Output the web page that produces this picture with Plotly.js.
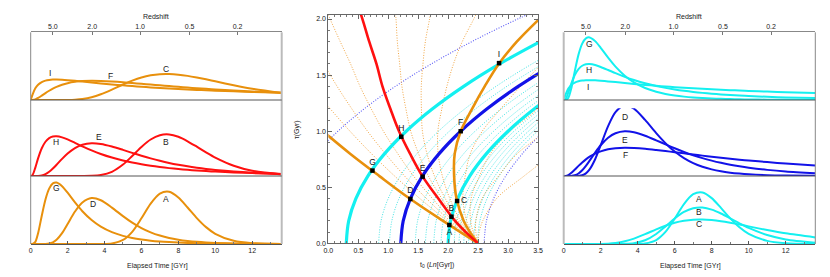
<!DOCTYPE html>
<html><head><meta charset="utf-8">
<script src="https://cdn.plot.ly/plotly-3.0.1.min.js"></script>
<style>html,body{margin:0;padding:0;background:#fff}#chart{width:830px;height:277px}</style>
</head><body><div id="chart"></div>
<script>
// ---------- data: star-formation histories (normalised SFR vs elapsed time, Gyr) ----------
const tGrid = [0,0.1,0.25,0.4,0.6,0.8,1.0,1.2,1.4,1.7,2.0,2.4,2.8,3.3,3.8,4.4,5.0,5.5,6.0,6.5,7.0,7.5,8.0,8.5,9.0,9.5,10,11,12,13.6];
const sfhA = [0,0,0,0,0,0,0,0,0,0,0,0,0,0,0.0002,0.0033,0.024,0.0731,0.1539,0.2419,0.3017,0.3125,0.2782,0.2187,0.1552,0.101,0.0613,0.019,0.005,0.0005];
const sfhB = [0,0,0,0,0,0,0,0,0,0,0,0,0.0001,0.0008,0.005,0.0224,0.0608,0.1065,0.1547,0.1941,0.2169,0.2209,0.2085,0.1848,0.1557,0.1256,0.0977,0.0543,0.0277,0.0083];
const sfhC = [0,0,0,0,0,0,0,0,0,0.0001,0.0004,0.0019,0.0059,0.0161,0.0329,0.0597,0.0888,0.1108,0.1287,0.1408,0.1472,0.1481,0.1447,0.1379,0.1287,0.1181,0.1068,0.0845,0.0646,0.040];
const sfhD = [0,0,0,0,0,0.0005,0.0029,0.0102,0.0255,0.0652,0.1197,0.1943,0.2488,0.2749,0.2618,0.2181,0.1667,0.1277,0.0952,0.0697,0.0504,0.0361,0.0258,0.0183,0.013,0.0093,0.0066,0.0033,0.0017,0.0006];
const sfhE = [0,0,0,0.0003,0.0027,0.0097,0.0223,0.0395,0.0596,0.0911,0.1197,0.1488,0.1663,0.174,0.1702,0.1567,0.1388,0.1231,0.1079,0.0937,0.081,0.0697,0.0599,0.0513,0.044,0.0377,0.0323,0.0238,0.0176,0.011];
const sfhF = [0,0.0002,0.0038,0.0115,0.025,0.0393,0.0528,0.0648,0.075,0.0871,0.096,0.1038,0.1079,0.1097,0.1088,0.1057,0.1012,0.097,0.0926,0.0881,0.0836,0.0793,0.0751,0.0711,0.0673,0.0637,0.0603,0.0541,0.0486,0.0411];
const sfhG = [0,0.0001,0.0127,0.0641,0.1694,0.2668,0.3315,0.3628,0.3682,0.3463,0.3071,0.2492,0.1964,0.1433,0.1038,0.0707,0.0485,0.0357,0.0265,0.0198,0.0149,0.0114,0.0087,0.0067,0.0052,0.0041,0.0032,0.002,0.0013,0.0007];
const sfhH = [0,0.0051,0.0443,0.0938,0.1474,0.1821,0.2015,0.2101,0.2115,0.2056,0.1944,0.1764,0.1579,0.1363,0.1173,0.0981,0.0823,0.0714,0.0622,0.0543,0.0476,0.0419,0.037,0.0328,0.0292,0.026,0.0233,0.0188,0.0153,0.0112];
const sfhI = [0,0.0311,0.067,0.0875,0.1028,0.1107,0.1148,0.1165,0.1168,0.1156,0.1134,0.1095,0.1053,0.0999,0.0948,0.0889,0.0836,0.0795,0.0756,0.0721,0.0688,0.0658,0.0629,0.0603,0.0578,0.0555,0.0534,0.0495,0.046,0.0412];

// top axis: redshift tick labels and the elapsed time they sit at
const redshiftLabels = ['5.0','2.0','1.0','0.5','0.2'];
const redshiftAges = [1.2, 3.33, 5.93, 8.61, 11.21];

// ---------- data: centre panel (t0 vs tau) ----------
// curves of constant peak time, read as t0 values at these tau
const tauSteps = [0,0.2,0.4,0.6,0.8,1.0,1.2,1.4,1.6,1.8,2.0,2.2];
const peakCyanGHI = [0.30,0.34,0.46,0.66,0.94,1.30,1.74,2.26,2.86,3.54];
const peakBlueDEF = [1.21,1.25,1.37,1.57,1.85,2.21,2.65,3.17,3.77];
const peakCyanABC = [2.00,2.04,2.16,2.36,2.64,3.00,3.44,3.96];
const peakBlueDotEarly = [-0.84,-0.80,-0.68,-0.48,-0.20,0.16,0.60,1.12,1.72,2.40,3.16,4.00];
const peakBlueDotLate = [2.60,2.64,2.76,2.96,3.24,3.60];
const peakCyanDot1 = [0.84,0.88,1.00,1.20,1.48,1.84,2.28,2.80,3.40,4.08];
const peakCyanDot2 = [1.02,1.06,1.18,1.38,1.66,2.02,2.46,2.98,3.58];
const peakCyanDot3 = [1.45,1.49,1.61,1.81,2.09,2.45,2.89,3.41,4.01];
const peakCyanDot4 = [1.62,1.66,1.78,1.98,2.26,2.62,3.06,3.58];
const peakCyanDot5 = [1.76,1.80,1.92,2.12,2.40,2.76,3.20,3.72];
const peakCyanDot6 = [1.88,1.92,2.04,2.24,2.52,2.88,3.32,3.84];
const peakCyanDot7 = [2.10,2.14,2.26,2.46,2.74,3.10,3.54];
const peakCyanDot8 = [2.18,2.22,2.34,2.54,2.82,3.18,3.62];
const peakCyanDot9 = [2.26,2.30,2.42,2.62,2.90,3.26,3.70];
const peakCyanDot10 = [2.34,2.38,2.50,2.70,2.98,3.34,3.78];
const peakCyanDot11 = [2.42,2.46,2.58,2.78,3.06,3.42,3.86];
const peakCyanDot12 = [2.49,2.53,2.65,2.85,3.13,3.49,3.93];

// fan of curves converging at t0 = 2.5, read as t0 values at these tau
const tauFan = [0,0.1,0.2,0.4,0.6,0.8,1.0,1.2,1.4,1.6,1.8,2.0,2.1];
const fanOrangeGDA = [2.5,2.205,1.916,1.358,0.853,0.364,-0.09];
const fanRedHEB = [2.5,2.295,2.116,1.836,1.57,1.364,1.18,1.036,0.904,0.804,0.682,0.57,0.505];
const fanOrangeIFC = [2.5,2.365,2.26,2.14,2.10,2.11,2.21,2.40,2.61,2.845,3.15,3.52,3.72];
const fanDot1 = [2.5,2.237,1.987,1.528,1.108,0.72,0.362,0.032,-0.28];
const fanDot2 = [2.5,2.258,2.033,1.638,1.274,0.951,0.655,0.392,0.147,-0.074,-0.28];
const fanDot3 = [2.5,2.277,2.075,1.738,1.423,1.159,0.92,0.716,0.53,0.372,0.198,0.03,-0.05];
const fanDot4 = [2.5,2.308,2.143,1.894,1.671,1.506,1.376,1.295,1.229,1.191,1.152,1.13,1.112];
const fanDot5 = [2.5,2.322,2.171,1.952,1.772,1.647,1.571,1.554,1.552,1.58,1.62,1.69,1.719];
const fanDot6 = [2.5,2.339,2.207,2.028,1.904,1.834,1.829,1.895,1.979,2.09,2.237,2.428,2.517];
const fanDot7 = [2.5,2.39,2.31,2.246,2.285,2.371,2.57,2.878,3.208,3.56];
const fanDot8 = [2.5,2.421,2.375,2.383,2.523,2.707,3.034,3.492,3.75];
const fanDot9 = [2.5,2.463,2.462,2.566,2.841,3.154,3.652];
const fanDot10 = [2.5,2.519,2.577,2.809,3.266,3.751];

// the nine models
const modelNames = ['A','B','C','D','E','F','G','H','I'];
const modelT0 = [2.02,2.055,2.15,1.369,1.575,2.21,0.737,1.218,2.85];
const modelTau = [0.164,0.238,0.378,0.396,0.595,1.0,0.649,0.951,1.607];

// ---------- styles ----------
const ORANGE='#E8900C', RED='#FF1010', CYAN='#14F0F0', BLUE='#1212E8';
const ORANGE_DOT='#F0A646', CYAN_DOT='#3EE2E2', BLUE_DOT='#5A5AF5';
const FONT='Liberation Sans, Arial, Helvetica, sans-serif';
const W=830, H=277;
const px = v => v/W, py = v => 1 - v/H;

const traces = [];
function side(y, xa, ya, color){
  traces.push({x:tGrid, y:y, xaxis:xa, yaxis:ya, type:'scatter', mode:'lines',
    line:{color:color, width:2, shape:'spline', smoothing:0.8}, hoverinfo:'skip'});
}
// left panel
side(sfhI,'x2','y3',ORANGE); side(sfhF,'x2','y3',ORANGE); side(sfhC,'x2','y3',ORANGE);
side(sfhH,'x','y2',RED); side(sfhE,'x','y2',RED); side(sfhB,'x','y2',RED);
side(sfhG,'x','y',ORANGE); side(sfhD,'x','y',ORANGE); side(sfhA,'x','y',ORANGE);
// right panel
side(sfhG,'x4','y6',CYAN); side(sfhH,'x4','y6',CYAN); side(sfhI,'x4','y6',CYAN);
side(sfhD,'x3','y5',BLUE); side(sfhE,'x3','y5',BLUE); side(sfhF,'x3','y5',BLUE);
side(sfhA,'x3','y4',CYAN); side(sfhB,'x3','y4',CYAN); side(sfhC,'x3','y4',CYAN);

// centre panel
function mid(xv, yv, color, width, dash){
  traces.push({x:xv, y:yv, xaxis:'x5', yaxis:'y7', type:'scatter', mode:'lines',
    line:{color:color, width:width, dash:dash||'solid', shape:'spline', smoothing:1}, hoverinfo:'skip'});
}
const DOT='1px,1.6px';
[peakCyanDot1,peakCyanDot2,peakCyanDot3,peakCyanDot4,peakCyanDot5,peakCyanDot6,
 peakCyanDot7,peakCyanDot8,peakCyanDot9,peakCyanDot10,peakCyanDot11,peakCyanDot12]
 .forEach(a=>mid(a, tauSteps, CYAN_DOT, 1, DOT));
mid(peakBlueDotEarly, tauSteps, BLUE_DOT, 1.1, DOT);
mid(peakBlueDotLate, tauSteps, BLUE_DOT, 1.1, DOT);
[fanDot1,fanDot2,fanDot3,fanDot4,fanDot5,fanDot6,fanDot7,fanDot8,fanDot9,fanDot10]
 .forEach(a=>mid(a, tauFan, ORANGE_DOT, 1, DOT));
mid(peakCyanGHI, tauSteps, CYAN, 3.2);
mid(peakCyanABC, tauSteps, CYAN, 3.2);
mid(peakBlueDEF, tauSteps, BLUE, 3.2);
mid(fanOrangeGDA, tauFan, ORANGE, 2.6);
mid(fanOrangeIFC, tauFan, ORANGE, 2.6);
mid(fanRedHEB, tauFan, RED, 2.6);
traces.push({x:modelT0, y:modelTau, text:modelNames, xaxis:'x5', yaxis:'y7', type:'scatter',
  mode:'markers+text', cliponaxis:false,
  textposition:['bottom center','top center','middle right','top center','top center','top center','top center','top center','top center'],
  textfont:{family:FONT, size:8.5, color:'#111'},
  marker:{symbol:'square', size:4.5, color:'#000'}, hoverinfo:'skip'});

// ---------- layout ----------
const tickFont = {family:FONT, size:7, color:'#222'};
const hidden = (dom, rng, anchor) => ({domain:dom, range:rng, anchor:anchor, visible:false, fixedrange:true});
const leftDom = [px(30.7), px(281.7)], rightDom = [px(563.7), px(815.3)];
const botDom = [py(244), py(176.3)], midDom = [py(176), py(108.3)], topDom = [py(100), py(32.3)];
function bottomAxis(dom, anchor){
  return {domain:dom, range:[0,13.6], anchor:anchor, showline:true, linecolor:'#555', linewidth:1,
    ticks:'inside', ticklen:3, tickcolor:'#555', dtick:2, tick0:0, tickfont:tickFont,
    minor:{dtick:1, ticklen:2, ticks:'inside', tickcolor:'#777'},
    showgrid:false, zeroline:false, fixedrange:true};
}
function topAxis(dom, anchor){
  return {domain:dom, range:[0,13.6], anchor:anchor, side:'top', showline:true, linecolor:'#888', linewidth:1,
    ticks:'inside', ticklen:3, tickcolor:'#777', tickmode:'array', tickvals:redshiftAges, ticktext:redshiftLabels,
    tickfont:tickFont, showgrid:false, zeroline:false, fixedrange:true};
}
const layout = {
  width:W, height:H, margin:{l:0,r:0,t:0,b:0}, paper_bgcolor:'#fff', plot_bgcolor:'rgba(0,0,0,0)',
  showlegend:false, font:{family:FONT, size:7, color:'#222'},
  xaxis: bottomAxis(leftDom,'y'),
  xaxis2: topAxis(leftDom,'y3'),
  xaxis3: bottomAxis(rightDom,'y4'),
  xaxis4: topAxis(rightDom,'y6'),
  yaxis: hidden(botDom,[0,0.4054],'x'),
  yaxis2: hidden(midDom,[0,0.3601],'x'),
  yaxis3: hidden(topDom,[0,0.3869],'x2'),
  yaxis4: hidden(botDom,[0,0.4103],'x3'),
  yaxis5: hidden(midDom,[0,0.2634],'x3'),
  yaxis6: hidden(topDom,[0,0.3982],'x4'),
  xaxis5: {domain:[px(328.3), px(538)], range:[0,3.5], anchor:'y7', showline:true, mirror:'allticks',
    linecolor:'#666', ticks:'inside', ticklen:4, tickcolor:'#666', dtick:0.5, tick0:0, tickformat:'.1f',
    minor:{dtick:0.1, ticklen:2, ticks:'inside', tickcolor:'#777'},
    tickfont:{family:FONT, size:7, color:'#111'}, showgrid:false, zeroline:false, fixedrange:true},
  yaxis7: {domain:[py(243.4), py(15)], range:[0,2.036], anchor:'x5', showline:true, mirror:'allticks',
    linecolor:'#666', ticks:'inside', ticklen:4, tickcolor:'#666', tickmode:'array', tickvals:[0,0.5,1,1.5,2],
    tickformat:'.1f', minor:{dtick:0.1, ticklen:2, ticks:'inside', tickcolor:'#777'},
    tickfont:{family:FONT, size:7, color:'#111'}, showgrid:false, zeroline:false, fixedrange:true},
  shapes: [
    {type:'line', xref:'paper', yref:'paper', x0:px(30.7), x1:px(30.7), y0:py(244), y1:py(32.3), line:{color:'#888', width:1}},
    {type:'line', xref:'paper', yref:'paper', x0:px(281.7), x1:px(281.7), y0:py(244), y1:py(32.3), line:{color:'#bbb', width:2}},
    {type:'line', xref:'paper', yref:'paper', x0:px(30.7), x1:px(281.7), y0:py(100), y1:py(100), line:{color:'#555', width:1}},
    {type:'line', xref:'paper', yref:'paper', x0:px(30.7), x1:px(281.7), y0:py(176), y1:py(176), line:{color:'#555', width:1}},
    {type:'line', xref:'paper', yref:'paper', x0:px(563.7), x1:px(563.7), y0:py(244), y1:py(32.3), line:{color:'#bbb', width:2}},
    {type:'line', xref:'paper', yref:'paper', x0:px(815.3), x1:px(815.3), y0:py(244), y1:py(32.3), line:{color:'#888', width:1}},
    {type:'line', xref:'paper', yref:'paper', x0:px(563.7), x1:px(815.3), y0:py(100), y1:py(100), line:{color:'#555', width:1}},
    {type:'line', xref:'paper', yref:'paper', x0:px(563.7), x1:px(815.3), y0:py(176), y1:py(176), line:{color:'#555', width:1}}
  ],
  annotations: []
};
function ann(text, x, y, size, extra){
  layout.annotations.push(Object.assign({text:text, xref:'paper', yref:'paper', x:px(x), y:py(y),
    xanchor:'center', yanchor:'middle', showarrow:false, font:{family:FONT, size:size||7, color:'#222'}}, extra||{}));
}
ann('Redshift', 156, 17, 7); ann('Redshift', 689, 17, 7);
ann('Elapsed Time [GYr]', 157.5, 266, 7); ann('Elapsed Time [GYr]', 690, 266, 7);
ann('t<sub>0</sub> (<i>Ln</i>[Gyr])', 436.7, 265, 7);
ann('τ(Gyr)', 297, 130, 7, {textangle:-90});
const LS = 8.5, LC = {family:FONT, size:LS, color:'#222'};
[['I',50,73.3],['F',110.7,76],['C',166,68.7],['H',56,142.3],['E',99,137.3],['B',165.7,141.7],
 ['G',56,187.7],['D',92.7,204],['A',165.7,198.7],
 ['G',589,44],['H',589,70],['I',587.7,87.3],['D',625.3,116.7],['E',625.3,140],['F',625.3,154.7],
 ['A',699,198.7],['B',699,211.7],['C',699,224.3]].forEach(a=>ann(a[0],a[1],a[2],LS));

Plotly.newPlot('chart', traces, layout, {staticPlot:true, displayModeBar:false});
</script></body></html>
